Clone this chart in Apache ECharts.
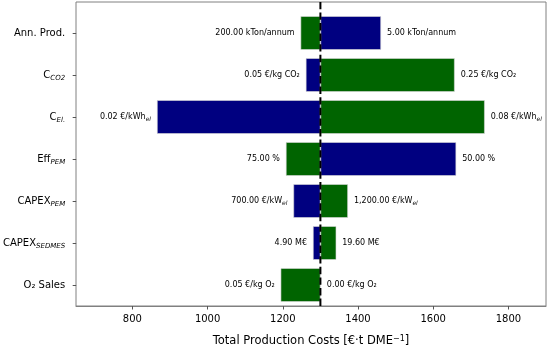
<!DOCTYPE html>
<html>
<head>
<meta charset="utf-8">
<script src="https://cdn.jsdelivr.net/npm/echarts@6/dist/echarts.min.js"></script>
<style>
  html, body { margin: 0; padding: 0; background: #fff; }
  #chart { width: 547px; height: 352px; }
</style>
</head>
<body>
<div id="chart"></div>
<script>
// tornado chart, costs in €/t DME
var categories = ['Ann. Prod.', 'C_CO2', 'C_El.', 'Eff_PEM', 'CAPEX_PEM', 'CAPEX_SEDMES', 'O2 Sales'];
var baseCost = 1300;
// cost with the low / high value of each parameter
var lowParamCost = [1461, 1261, 865, 1661, 1228, 1280, 1300];
var highParamCost = [1247, 1657, 1737, 1208, 1373, 1342, 1194];
var lowParamLabel = ['5.00 kTon/annum', '0.05 €/kg CO₂', '0.02 €/kWh{s|el}', '50.00 %', '700.00 €/kW{s|el}', '4.90 M€', '0.00 €/kg O₂'];
var highParamLabel = ['200.00 kTon/annum', '0.25 €/kg CO₂', '0.08 €/kWh{s|el}', '75.00 %', '1,200.00 €/kW{s|el}', '19.60 M€', '0.05 €/kg O₂'];
var xTicks = [800, 1000, 1200, 1400, 1600, 1800];

var lowColor = '#000080';
var highColor = '#006400';
var font = 'DejaVu Sans';

// y tick labels with italic subscripts
var yLabels = {
  'Ann. Prod.': 'Ann. Prod.',
  'C_CO2': '{m|C}{s|CO2}',
  'C_El.': '{m|C}{s|El.}',
  'Eff_PEM': '{m|Eff}{s|PEM}',
  'CAPEX_PEM': '{m|CAPEX}{s|PEM}',
  'CAPEX_SEDMES': '{m|CAPEX}{s|SEDMES}',
  'O2 Sales': 'O₂ Sales'
};

var baseData = [], leftData = [], rightData = [];
categories.forEach(function (c, i) {
  var lo = lowParamCost[i], hi = highParamCost[i];
  var leftEnd = Math.min(lo, hi), rightEnd = Math.max(lo, hi);
  var leftIsLow = lo <= hi;
  baseData.push(leftEnd);
  leftData.push({
    value: baseCost - leftEnd,
    itemStyle: { color: leftIsLow ? lowColor : highColor },
    label: { formatter: leftIsLow ? lowParamLabel[i] : highParamLabel[i] }
  });
  rightData.push({
    value: rightEnd - baseCost,
    itemStyle: { color: leftIsLow ? highColor : lowColor },
    label: { formatter: leftIsLow ? highParamLabel[i] : lowParamLabel[i] }
  });
});

var labelRich = {
  s: { fontFamily: font, fontSize: 6, fontStyle: 'italic', verticalAlign: 'bottom', padding: [0, 0, -1, 0] }
};

var chart = echarts.init(document.getElementById('chart'));
chart.setOption({
  animation: false,
  textStyle: { fontFamily: font },
  grid: [
    { left: 76, right: 1, top: 2, bottom: 36, show: true, borderColor: '#808080', borderWidth: 1 },
    { left: 76, right: 1, top: 12, bottom: 46 }
  ],
  xAxis: [
    {
      gridIndex: 0, type: 'value', min: 650, max: 1900,
      name: 'Total Production Costs [€·t DME{sup|−1}]',
      nameLocation: 'middle', nameGap: 29,
      nameTextStyle: {
        fontFamily: font, fontSize: 11.5, color: '#000',
        rich: { sup: { fontFamily: font, fontSize: 8, color: '#000', verticalAlign: 'top', padding: [0, 0, 3, 0] } }
      },
      axisLine: { show: true, lineStyle: { color: '#808080' } },
      axisTick: { show: true, length: 3.5, lineStyle: { color: '#555' }, customValues: xTicks },
      axisLabel: {
        fontFamily: font, fontSize: 10, color: '#000', margin: 8, customValues: xTicks,
        formatter: function (v) { return String(v); }
      },
      splitLine: { show: false }
    },
    { gridIndex: 1, type: 'value', min: 650, max: 1900, show: false }
  ],
  yAxis: [
    { gridIndex: 0, type: 'value', min: 0, max: 1, show: false },
    {
      gridIndex: 1, type: 'category', data: categories, inverse: true,
      axisLine: { show: false },
      axisTick: { show: true, length: 3.5, alignWithLabel: true, lineStyle: { color: '#555' } },
      axisLabel: {
        fontFamily: font, fontSize: 10, color: '#000', margin: 11,
        formatter: function (v) { return yLabels[v]; },
        rich: {
          m: { fontFamily: font, fontSize: 10, color: '#000' },
          s: { fontFamily: font, fontSize: 7, fontStyle: 'italic', color: '#000', verticalAlign: 'bottom', padding: [0, 0, -2, 0] }
        }
      }
    }
  ],
  series: [
    {
      type: 'bar', xAxisIndex: 1, yAxisIndex: 1, stack: 'tor', data: baseData,
      barWidth: '80%', itemStyle: { color: 'transparent' }, silent: true
    },
    {
      type: 'bar', xAxisIndex: 1, yAxisIndex: 1, stack: 'tor', data: leftData,
      barWidth: '80%',
      itemStyle: { borderColor: '#d8d8d8', borderWidth: 0.6 },
      label: { show: true, position: 'left', distance: 6, fontFamily: font, fontSize: 8, color: '#000', rich: labelRich }
    },
    {
      type: 'bar', xAxisIndex: 1, yAxisIndex: 1, stack: 'tor', data: rightData,
      barWidth: '80%',
      itemStyle: { borderColor: '#d8d8d8', borderWidth: 0.6 },
      label: { show: true, position: 'right', distance: 6, fontFamily: font, fontSize: 8, color: '#000', rich: labelRich }
    },
    {
      type: 'line', xAxisIndex: 0, yAxisIndex: 0, z: 10,
      data: [[baseCost, 0], [baseCost, 1]],
      symbol: 'none',
      lineStyle: { color: '#000', width: 2, type: [7.4, 3.2] }
    }
  ]
});
</script>
</body>
</html>
